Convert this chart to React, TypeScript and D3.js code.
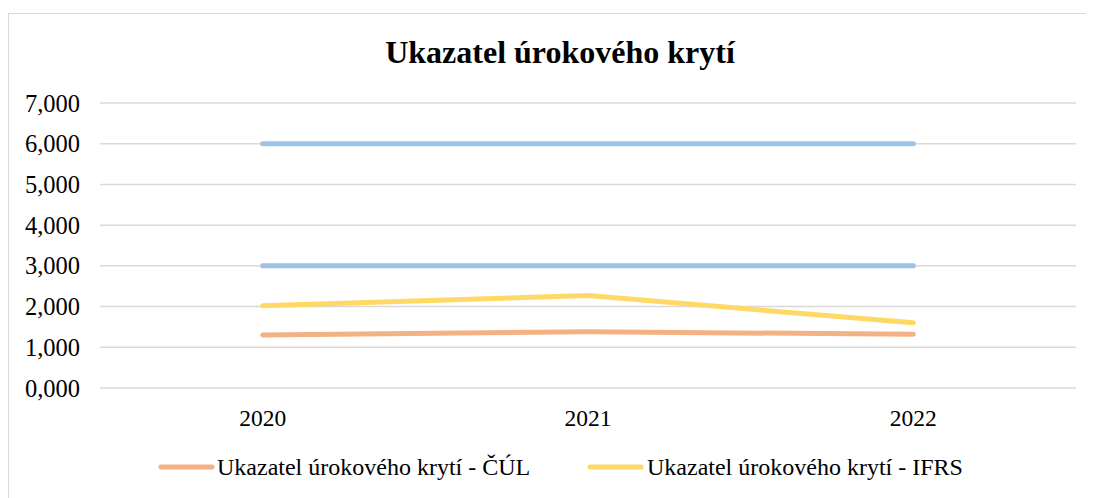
import React from "react";
import * as d3 from "d3";

const years = ["2020", "2021", "2022"];
const yTicks = [0, 1, 2, 3, 4, 5, 6, 7];
const seriesCUL = [1.30, 1.38, 1.32];
const seriesIFRS = [2.02, 2.27, 1.60];
const limitUpper = [6, 6, 6];
const limitLower = [3, 3, 3];
const titleText = "Ukazatel úrokového krytí";
const legendCUL = "Ukazatel úrokového krytí - ČÚL";
const legendIFRS = "Ukazatel úrokového krytí - IFRS";

export default function App() {
  const W = 1086, H = 490;
  const left = 100, right = 1076, top = 103, bottom = 388;
  const x = d3.scaleBand().domain(years).range([left, right]);
  const y = d3.scaleLinear().domain([0, 7]).range([bottom, top]);
  const line = d3
    .line<number>()
    .x((_, i) => (x(years[i]) as number) + x.bandwidth() / 2)
    .y((d) => y(d));
  const font = "'Liberation Serif', 'Times New Roman', serif";
  const series = [
    { data: limitUpper, color: "#9DC3E6" },
    { data: limitLower, color: "#9DC3E6" },
    { data: seriesCUL, color: "#F4B183" },
    { data: seriesIFRS, color: "#FFD966" },
  ];
  return (
    <svg width={W} height={H} style={{ display: "block" }} fontFamily={font}>
      <g transform="translate(-8,-8)">
        <rect x={8.5} y={13.5} width={1200} height={600} fill="#fff" stroke="#D9D9D9" strokeWidth={1} />
        <text x={560} y={63} textAnchor="middle" fontSize={32} fontWeight="bold" fill="#000">
          {titleText}
        </text>
        {yTicks.map((t) => (
          <g key={t}>
            <line x1={left} x2={right} y1={y(t)} y2={y(t)} stroke="#D9D9D9" strokeWidth={1.5} />
            <text x={80} y={y(t)} dy="0.35em" textAnchor="end" fontSize={24.5} fill="#000">
              {t.toFixed(3).replace(".", ",")}
            </text>
          </g>
        ))}
        {years.map((yr) => (
          <text key={yr} x={(x(yr) as number) + x.bandwidth() / 2} y={418} dy="0.35em" textAnchor="middle" fontSize={23.5} fill="#000">
            {yr}
          </text>
        ))}
        {series.map((s, i) => (
          <path key={i} d={line(s.data) || ""} fill="none" stroke={s.color} strokeWidth={5} strokeLinecap="round" strokeLinejoin="round" />
        ))}
        <line x1={161} x2={212} y1={467} y2={467} stroke="#F4B183" strokeWidth={5} strokeLinecap="round" />
        <text x={217} y={467} dy="0.35em" fontSize={24} fill="#000">{legendCUL}</text>
        <line x1={590} x2={641} y1={467} y2={467} stroke="#FFD966" strokeWidth={5} strokeLinecap="round" />
        <text x={647} y={467} dy="0.35em" fontSize={24} fill="#000">{legendIFRS}</text>
      </g>
    </svg>
  );
}
